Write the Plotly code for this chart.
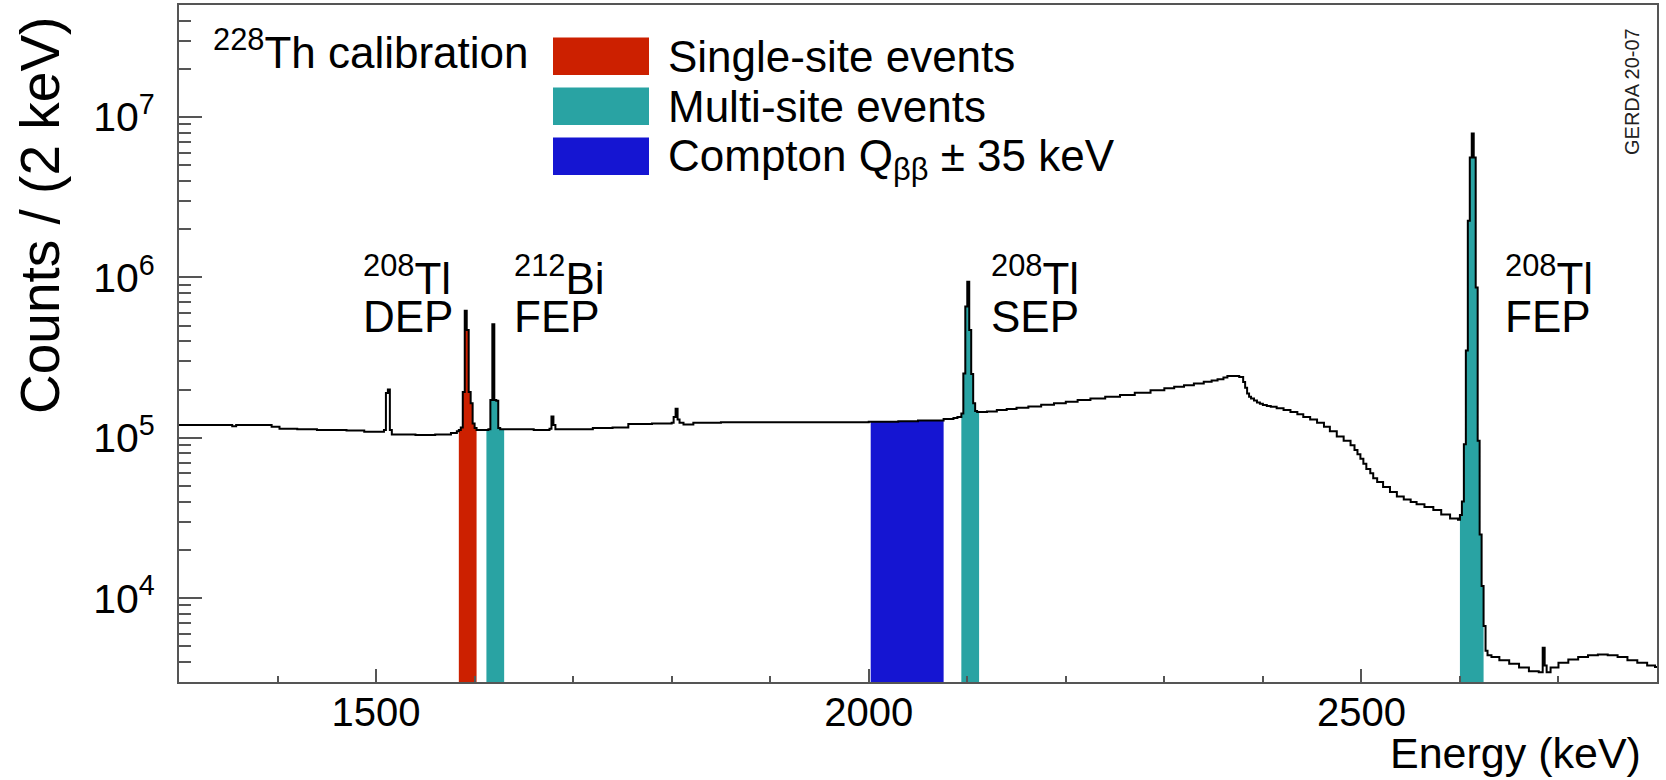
import math
import plotly.graph_objects as go

# ---------------- data (2 keV binning) ----------------
# left edge of a bin (keV) and its content; the value holds until the next edge
energy_kev = [
    1300, 1354, 1358, 1394, 1402, 1420, 1440, 1470, 1488, 1508, 1510, 1512, 1514, 1516,
    1540, 1560, 1576, 1582, 1584, 1586, 1588, 1590, 1592, 1594, 1596, 1598, 1600, 1602,
    1614, 1616, 1618, 1620, 1622, 1624, 1626, 1660, 1676, 1678, 1680, 1682, 1700, 1720,
    1740, 1756, 1780, 1800, 1802, 1804, 1806, 1808, 1812, 1822, 1850, 1900, 1950, 2000,
    2030, 2050, 2076, 2086, 2090, 2094, 2096, 2098, 2100, 2102, 2104, 2106, 2108, 2110,
    2112, 2120, 2130, 2140, 2150, 2162, 2175, 2188, 2200, 2212, 2225, 2240, 2255, 2270,
    2286, 2300, 2310, 2320, 2330, 2340, 2348, 2354, 2360, 2364, 2376, 2380, 2382, 2384,
    2386, 2388, 2391, 2394, 2397, 2400, 2404, 2408, 2414, 2421, 2428, 2435, 2441, 2448,
    2455, 2462, 2468, 2475, 2482, 2489, 2493, 2496, 2499, 2502, 2505, 2509, 2512, 2516,
    2522, 2529, 2536, 2543, 2550, 2556, 2564, 2573, 2581, 2590, 2598, 2600, 2602, 2604,
    2606, 2608, 2610, 2612, 2614, 2616, 2618, 2620, 2622, 2624, 2626, 2628, 2632, 2640,
    2650, 2660, 2670, 2680, 2684, 2686, 2688, 2692, 2700, 2710, 2720, 2730, 2740, 2750,
    2760, 2770, 2780, 2790, 2798,
]
counts = [
    1.20e5, 1.18e5, 1.20e5, 1.17e5, 1.14e5, 1.13e5, 1.12e5, 1.11e5, 1.09e5, 1.12e5, 1.90e5, 2.00e5, 1.12e5, 1.05e5,
    1.04e5, 1.05e5, 1.07e5, 1.10e5, 1.12e5, 1.16e5, 1.93e5, 6.20e5, 4.70e5, 1.93e5, 1.64e5, 1.23e5, 1.15e5, 1.12e5,
    1.13e5, 1.72e5, 5.10e5, 1.72e5, 1.70e5, 1.15e5, 1.13e5, 1.12e5, 1.14e5, 1.36e5, 1.20e5, 1.13e5, 1.13e5, 1.15e5,
    1.16e5, 1.22e5, 1.23e5, 1.24e5, 1.35e5, 1.52e5, 1.30e5, 1.24e5, 1.21e5, 1.24e5, 1.25e5, 1.25e5, 1.25e5, 1.26e5,
    1.27e5, 1.28e5, 1.31e5, 1.33e5, 1.35e5, 1.42e5, 2.52e5, 6.60e5, 9.40e5, 4.70e5, 2.50e5, 1.64e5, 1.47e5, 1.45e5,
    1.45e5, 1.46e5, 1.49e5, 1.51e5, 1.54e5, 1.57e5, 1.61e5, 1.64e5, 1.68e5, 1.72e5, 1.76e5, 1.80e5, 1.85e5, 1.91e5,
    1.98e5, 2.04e5, 2.08e5, 2.13e5, 2.18e5, 2.24e5, 2.28e5, 2.32e5, 2.38e5, 2.43e5, 2.39e5, 2.23e5, 2.05e5, 1.89e5,
    1.80e5, 1.76e5, 1.71e5, 1.66e5, 1.63e5, 1.60e5, 1.58e5, 1.56e5, 1.53e5, 1.49e5, 1.45e5, 1.40e5, 1.35e5, 1.30e5,
    1.24e5, 1.17e5, 1.10e5, 1.02e5, 9.60e4, 9.00e4, 8.40e4, 7.90e4, 7.40e4, 6.90e4, 6.40e4, 6.00e4, 5.60e4, 5.30e4,
    4.94e4, 4.60e4, 4.30e4, 4.12e4, 3.98e4, 3.85e4, 3.70e4, 3.54e4, 3.33e4, 3.14e4, 3.08e4, 3.30e4, 4.00e4, 9.10e4,
    3.50e5, 2.26e6, 5.60e6, 7.90e6, 5.60e6, 8.65e5, 9.60e4, 2.49e4, 1.19e4, 6.70e3, 4.70e3, 4.40e3, 4.30e3, 4.10e3,
    3.90e3, 3.70e3, 3.50e3, 3.45e3, 4.90e3, 3.80e3, 3.45e3, 3.70e3, 3.95e3, 4.15e3, 4.30e3, 4.40e3, 4.45e3, 4.40e3,
    4.30e3, 4.10e3, 3.95e3, 3.80e3, 3.72e3,
]
energy_max = 2800

# event-selection windows (keV)
sse_windows = [(1584, 1602)]
mse_windows = [(1612, 1630), (2094, 2112), (2600, 2624)]
compton_windows = [(2002, 2076)]

legend_labels = ["Single-site events", "Multi-site events", "Compton Q<sub>ββ</sub> ± 35 keV"]
peak_isotopes = ["<sup>208</sup>Tl", "<sup>212</sup>Bi", "<sup>208</sup>Tl", "<sup>208</sup>Tl"]
peak_names = ["DEP", "FEP", "SEP", "FEP"]
calib_label = "<sup>228</sup>Th calibration"
stamp_label = "GERDA 20-07"
x_title = "Energy (keV)"
y_title = "Counts / (2 keV)"
x_tick_vals = [1500, 2000, 2500]
y_tick_vals = [1e4, 1e5, 1e6, 1e7]
y_tick_text = ["10<sup>4</sup>", "10<sup>5</sup>", "10<sup>6</sup>", "10<sup>7</sup>"]
x_range = [1300, 2800]
y_range = [3000, 5e7]

# ---------------- styles / layout ----------------
W, H = 1666, 780
ML, MR, MT, MB = 179, 9, 5, 98
PW, PH = W - ML - MR, H - MT - MB
FONT = "Liberation Sans, Arial, Helvetica, sans-serif"
RED, TEAL, BLUE = "#cc2000", "#29a3a3", "#1515d2"
AXC = "#555555"


def xp(px):
    return (px - ML) / PW


def yp(py):
    return (H - MB - py) / PH


def window_shape(lo, hi, floor=100.0):
    xs, ys = [lo], [floor]
    idx = max(i for i, e in enumerate(energy_kev) if e <= lo)
    xs.append(lo)
    ys.append(counts[idx])
    for e, c in zip(energy_kev, counts):
        if lo < e < hi:
            xs.append(e)
            ys.append(c)
    xs += [hi, hi]
    ys += [ys[-1], floor]
    return xs, ys


fig = go.Figure()
for wins, col in ((sse_windows, RED), (mse_windows, TEAL), (compton_windows, BLUE)):
    for lo, hi in wins:
        xs, ys = window_shape(lo, hi)
        fig.add_trace(go.Scatter(x=xs, y=ys, mode="lines", fill="toself", fillcolor=col,
                                 line=dict(width=0, shape="hv", color=col),
                                 hoverinfo="skip", showlegend=False))

fig.add_trace(go.Scatter(x=energy_kev + [energy_max], y=counts + [counts[-1]], mode="lines",
                         line=dict(color="black", width=2, shape="hv"), showlegend=False))

y_minor = [k * 10 ** d for d in range(3, 8) for k in range(2, 10)
           if y_range[0] < k * 10 ** d < y_range[1]]

fig.update_layout(
    width=W, height=H, autosize=False,
    margin=dict(l=ML, r=MR, t=MT, b=MB, autoexpand=False),
    paper_bgcolor="white", plot_bgcolor="white",
    font=dict(family=FONT, color="black"),
    xaxis=dict(range=x_range, tickmode="array", tickvals=x_tick_vals,
               ticks="inside", ticklen=13, tickwidth=2, tickcolor=AXC,
               minor=dict(tick0=1300, dtick=100, ticks="inside", ticklen=6, tickwidth=2, tickcolor=AXC),
               showline=True, linecolor=AXC, linewidth=2, mirror=True,
               showgrid=False, zeroline=False, automargin=False,
               tickfont=dict(size=40, family=FONT, color="black"), ticklabelstandoff=-6),
    yaxis=dict(type="log", range=[math.log10(y_range[0]), math.log10(y_range[1])],
               tickmode="array", tickvals=y_tick_vals, ticktext=y_tick_text,
               ticks="inside", ticklen=23, tickwidth=2, tickcolor=AXC,
               minor=dict(tickmode="array", tickvals=y_minor, ticks="inside", ticklen=11.5,
                          tickwidth=2, tickcolor=AXC),
               showline=True, linecolor=AXC, linewidth=2, mirror=True,
               showgrid=False, zeroline=False, automargin=False,
               tickfont=dict(size=41, family=FONT, color="black"), ticklabelstandoff=14),
)

anns = []


def ann(text, px, py, size, xanchor="left", yanchor="middle", angle=0, color="black"):
    anns.append(dict(text=text, x=xp(px), y=yp(py), xref="paper", yref="paper",
                     showarrow=False, xanchor=xanchor, yanchor=yanchor, textangle=angle,
                     font=dict(size=size, family=FONT, color=color)))


# axis titles
ann(x_title, 1643, 753, 43, xanchor="right")
ann(y_title, 40, 216, 55, xanchor="center", angle=-90)

# calibration label
ann(calib_label, 211, 68.3 + 0.212 * 44 + 1, 44, yanchor="bottom")

# legend (boxes drawn as shapes + text)
shapes = []
box_rows = [(37.5, 75), (87.5, 125), (137.5, 175)]
for (top, bot), col, lab in zip(box_rows, (RED, TEAL, BLUE), legend_labels):
    shapes.append(dict(type="rect", xref="paper", yref="paper", x0=xp(553), x1=xp(649),
                       y0=yp(bot), y1=yp(top), fillcolor=col, line=dict(width=0)))
    cy = (top + bot) / 2 + (3 if "<sub>" in lab else 0)
    ann(lab, 666, cy, 44)

# peak labels
peak_left_px = [361, 512, 989, 1503]
FS = 44
for left, iso, name in zip(peak_left_px, peak_isotopes, peak_names):
    ann(iso, left, 295 + 0.212 * FS + 1, FS, yanchor="bottom")
    ann(name, left, 333 + 0.212 * FS + 1, FS, yanchor="bottom")

# stamp
ann(stamp_label, 1632, 92, 20, xanchor="center", angle=-90, color="#222222")

fig.update_layout(annotations=anns, shapes=shapes)
fig.write_html("out.html")
